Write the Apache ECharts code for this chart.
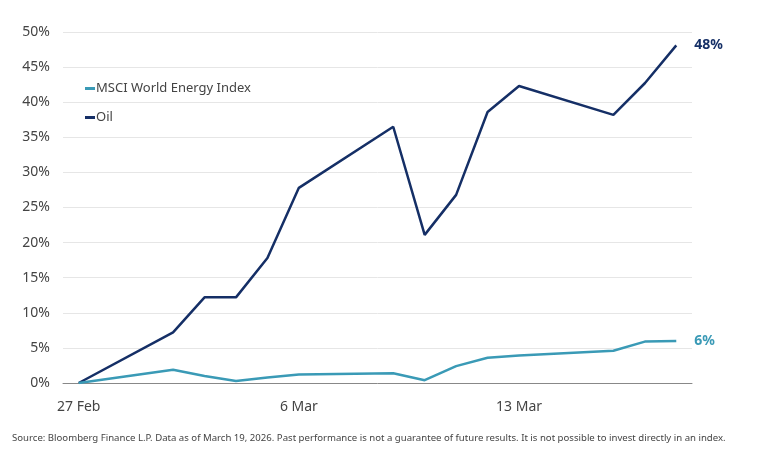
<!DOCTYPE html>
<html>
<head>
<meta charset="utf-8">
<script src="https://cdn.jsdelivr.net/npm/echarts@6/dist/echarts.min.js"></script>
<style>
  html, body { margin: 0; padding: 0; background: #fff; }
  #chart { width: 768px; height: 462px; }
</style>
</head>
<body>
<div id="chart"></div>
<script>
// all calendar days on the axis (weekends keep their slot)
var days = ['27 Feb', '28 Feb', '1 Mar', '2 Mar', '3 Mar', '4 Mar', '5 Mar', '6 Mar', '7 Mar', '8 Mar',
    '9 Mar', '10 Mar', '11 Mar', '12 Mar', '13 Mar', '14 Mar', '15 Mar', '16 Mar', '17 Mar', '18 Mar'];
// only these get a label
var tickLabels = ['27 Feb', '6 Mar', '13 Mar'];

// trading days with data
var tradingDays = ['27 Feb', '2 Mar', '3 Mar', '4 Mar', '5 Mar', '6 Mar',
    '9 Mar', '10 Mar', '11 Mar', '12 Mar', '13 Mar', '16 Mar', '17 Mar', '18 Mar'];
var msciValues = [0, 1.9, 1.0, 0.3, 0.8, 1.2, 1.4, 0.4, 2.4, 3.6, 3.9, 4.6, 5.9, 6.0];
var oilValues = [0, 7.2, 12.2, 12.2, 17.8, 27.8, 36.5, 21.1, 26.8, 38.6, 42.3, 38.2, 42.7, 48.1];

var msciColor = '#3a9ab6';
var oilColor = '#152f66';
var textColor = '#444444';
var fontName = 'Noto Sans';

function pairs(values) {
    return tradingDays.map(function (d, i) { return [d, values[i]]; });
}

var myChart = echarts.init(document.getElementById('chart'));

option = {
    animation: false,
    textStyle: { fontFamily: fontName },
    grid: { left: 63, right: 76, top: 32, bottom: 79 },
    legend: {
        orient: 'vertical',
        left: 80,
        top: 77,
        itemWidth: 10,
        itemHeight: 3,
        itemGap: 16,
        icon: 'rect',
        textStyle: { color: textColor, fontSize: 13, fontFamily: fontName, padding: [0, 0, 0, -4] },
        data: ['MSCI World Energy Index', 'Oil']
    },
    xAxis: {
        type: 'category',
        data: days,
        boundaryGap: true,
        axisLine: { lineStyle: { color: '#888888', width: 1 } },
        axisTick: { show: false },
        axisLabel: {
            color: textColor,
            fontSize: 14,
            margin: 17,
            interval: function (idx, val) { return tickLabels.indexOf(val) >= 0; }
        },
        splitLine: { show: false }
    },
    yAxis: {
        type: 'value',
        min: 0,
        max: 50,
        interval: 5,
        axisLine: { show: false },
        axisTick: { show: false },
        axisLabel: { color: textColor, fontSize: 14, margin: 13, formatter: '{value}%' },
        splitLine: { lineStyle: { color: '#e6e6e6', width: 1 } }
    },
    series: [
        {
            name: 'MSCI World Energy Index',
            type: 'line',
            data: pairs(msciValues),
            symbol: 'none',
            color: msciColor,
            lineStyle: { width: 2.5 },
            z: 3,
            endLabel: {
                show: true,
                distance: 18,
                color: msciColor,
                fontWeight: 'bold',
                fontSize: 14,
                formatter: function (p) { return Math.round(p.value[1]) + '%'; }
            }
        },
        {
            name: 'Oil',
            type: 'line',
            data: pairs(oilValues),
            symbol: 'none',
            color: oilColor,
            lineStyle: { width: 2.5 },
            z: 2,
            endLabel: {
                show: true,
                distance: 18,
                color: oilColor,
                fontWeight: 'bold',
                fontSize: 14,
                formatter: function (p) { return Math.round(p.value[1]) + '%'; }
            }
        }
    ],
    graphic: [
        {
            type: 'text',
            left: 12,
            top: 433,
            style: {
                text: 'Source: Bloomberg Finance L.P. Data as of March 19, 2026. Past performance is not a guarantee of future results. It is not possible to invest directly in an index.',
                fill: textColor,
                fontSize: 9.6,
                fontFamily: fontName
            }
        }
    ]
};

myChart.setOption(option);
</script>
</body>
</html>
